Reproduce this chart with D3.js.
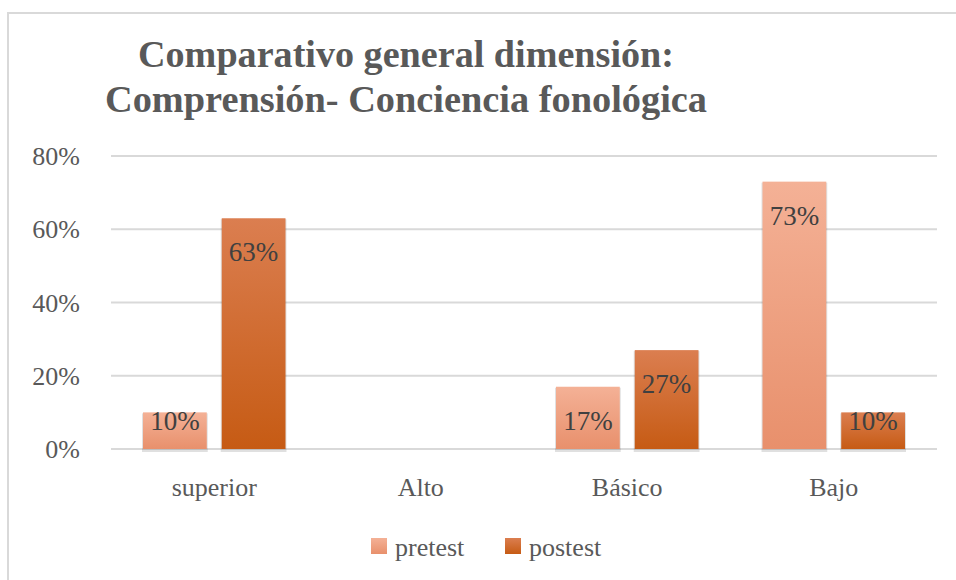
<!DOCTYPE html>
<html>
<meta charset="utf-8">
<head>
    <script src="https://d3js.org/d3.v7.min.js"></script>
<style>
    body { margin: 0; background: #fff; }
</style>
</head>
<body>
<div id="chart"></div>
<script>
    // chart data
    var categories = ["superior", "Alto", "Básico", "Bajo"];
    var seriesNames = ["pretest", "postest"];
    var pretest = [0.10, 0, 0.17, 0.73];
    var postest = [0.63, 0, 0.27, 0.10];
    var yTicks = [0, 0.2, 0.4, 0.6, 0.8];
    var titleLines = ["Comparativo general dimensión:", "Comprensión- Conciencia fonológica"];

    var FONT = "'Liberation Serif', serif";
    var W = 956, H = 580;
    var margin = {top: 156, right: 19, bottom: 131, left: 111};
    var width = W - margin.left - margin.right,
        height = H - margin.top - margin.bottom;

    var svg = d3.select("#chart").append("svg")
        .attr("width", W)
        .attr("height", H);

    var defs = svg.append("defs");
    var grads = [
        {id: "gPre", top: "#f4b196", bottom: "#e8906c"},
        {id: "gPost", top: "#db7e50", bottom: "#c65b14"}
    ];
    grads.forEach(function(g) {
        var lg = defs.append("linearGradient").attr("id", g.id)
            .attr("x1", 0).attr("y1", 0).attr("x2", 0).attr("y2", 1);
        lg.append("stop").attr("offset", "0%").attr("stop-color", g.top);
        lg.append("stop").attr("offset", "100%").attr("stop-color", g.bottom);
    });

    // frame
    svg.append("path")
        .attr("d", "M8," + H + "V13H" + W)
        .attr("fill", "none")
        .attr("stroke", "#d9d9d9")
        .attr("stroke-width", 2);

    // title (squeezed like the original)
    var titleWidths = [536, 602];
    svg.selectAll(".title")
        .data(titleLines)
        .enter().append("text")
        .attr("class", "title")
        .attr("x", 406)
        .attr("y", function(d, i) { return 67 + i * 45; })
        .attr("text-anchor", "middle")
        .attr("textLength", function(d, i) { return titleWidths[i]; })
        .attr("lengthAdjust", "spacingAndGlyphs")
        .style("font-family", FONT)
        .style("font-size", "37px")
        .style("font-weight", "bold")
        .attr("fill", "#595959")
        .text(function(d) { return d; });

    var g = svg.append("g")
        .attr("transform", "translate(" + margin.left + "," + margin.top + ")");

    var x0 = d3.scaleBand().domain(categories).range([0, width]);
    var x1 = d3.scaleBand().domain(seriesNames).range([32, x0.bandwidth() - 32]).paddingInner(0.19);
    var y = d3.scaleLinear().domain([0, 0.8]).range([height, 0]);

    // gridlines
    g.append("g")
        .selectAll("line")
        .data(yTicks)
        .enter().append("line")
        .attr("x1", 0).attr("x2", width)
        .attr("y1", function(d) { return y(d); })
        .attr("y2", function(d) { return y(d); })
        .attr("stroke", "#d9d9d9")
        .attr("stroke-width", 2);

    // y axis labels
    g.append("g")
        .selectAll("text")
        .data(yTicks)
        .enter().append("text")
        .attr("x", -31)
        .attr("y", function(d) { return y(d) + 9; })
        .attr("text-anchor", "end")
        .style("font-family", FONT)
        .style("font-size", "26px")
        .attr("fill", "#595959")
        .text(function(d) { return d3.format(".0%")(d); });

    // x axis labels
    g.append("g")
        .selectAll("text")
        .data(categories)
        .enter().append("text")
        .attr("x", function(d) { return x0(d) + x0.bandwidth() / 2; })
        .attr("y", height + 47)
        .attr("text-anchor", "middle")
        .style("font-family", FONT)
        .style("font-size", "26px")
        .attr("fill", "#595959")
        .text(function(d) { return d; });

    var rows = [];
    categories.forEach(function(c, i) {
        rows.push({cat: c, s: "pretest", v: pretest[i], grad: "gPre"});
        rows.push({cat: c, s: "postest", v: postest[i], grad: "gPost"});
    });
    var shown = rows.filter(function(d) { return d.v > 0; });

    // soft shadow under each bar
    g.selectAll(".shd")
        .data(shown)
        .enter().append("rect")
        .attr("class", "shd")
        .attr("x", function(d) { return x0(d.cat) + x1(d.s) - 1; })
        .attr("width", x1.bandwidth() + 2)
        .attr("y", function(d) { return y(d.v) + 1; })
        .attr("height", function(d) { return height - y(d.v) + 2; })
        .attr("fill", "#000")
        .attr("fill-opacity", 0.12);

    g.selectAll(".bar")
        .data(shown)
        .enter().append("rect")
        .attr("class", "bar")
        .attr("x", function(d) { return x0(d.cat) + x1(d.s); })
        .attr("width", x1.bandwidth())
        .attr("y", function(d) { return y(d.v); })
        .attr("height", function(d) { return height - y(d.v); })
        .attr("fill", function(d) { return "url(#" + d.grad + ")"; });

    // value labels, inside end (short bars keep the label near the base)
    g.selectAll(".lbl")
        .data(shown)
        .enter().append("text")
        .attr("class", "lbl")
        .attr("x", function(d) { return x0(d.cat) + x1(d.s) + x1.bandwidth() / 2; })
        .attr("y", function(d) { return Math.min(y(d.v) + 43, height - 19); })
        .attr("text-anchor", "middle")
        .style("font-family", FONT)
        .style("font-size", "27px")
        .attr("fill", "#404040")
        .text(function(d) { return d3.format(".0%")(d.v); });

    // legend
    var legend = svg.append("g");
    var legX = [371, 505];
    seriesNames.forEach(function(s, i) {
        legend.append("rect")
            .attr("x", legX[i]).attr("y", 538)
            .attr("width", 16).attr("height", 16)
            .attr("fill", "url(#" + grads[i].id + ")");
        legend.append("text")
            .attr("x", legX[i] + 24).attr("y", 556)
            .style("font-family", FONT)
            .style("font-size", "26px")
            .attr("fill", "#595959")
            .text(s);
    });
</script>
</body>
</html>
